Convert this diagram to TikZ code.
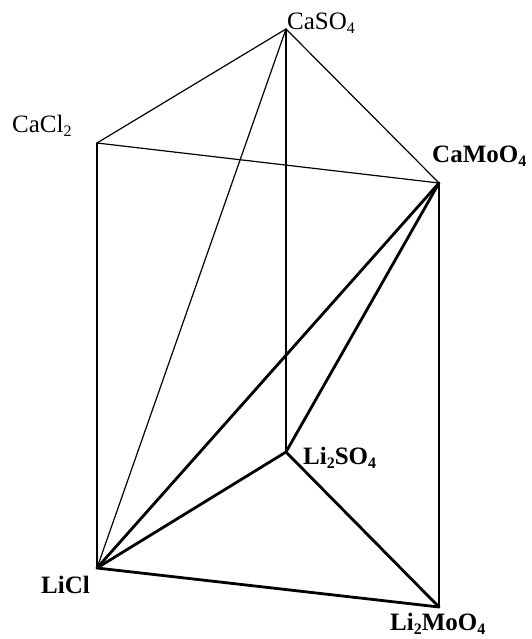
\documentclass[tikz,border=0pt]{standalone}
\usepackage{fontspec}
\setmainfont{Liberation Serif}
\newcommand{\sbs}[1]{\raisebox{-0.16em}{\fontsize{16}{16}\selectfont #1}}
\begin{document}
\begin{tikzpicture}[x=1pt,y=-1pt,
  thin edge/.style={line width=1.2pt,line cap=round,line join=round},
  thick edge/.style={line width=2.8pt,line cap=round,line join=round},
  lbl/.style={inner sep=0pt,font=\fontsize{25}{25}\selectfont},
  blbl/.style={inner sep=0pt,font=\fontsize{25}{25}\selectfont\bfseries}]
\useasboundingbox (0,0) rectangle (531,639);
\coordinate (caso) at (286,29);
\coordinate (cacl) at (97,143);
\coordinate (camo) at (439,183);
\coordinate (liso) at (286,452);
\coordinate (licl) at (97,568);
\coordinate (limo) at (439,607);
% thin edges
\draw[thin edge] (cacl) -- (caso) -- (camo);
\draw[thin edge] (cacl) -- (camo);
\draw[thin edge] (cacl) -- (licl);
\draw[thin edge] (caso) -- (liso);
\draw[thin edge] (caso) -- (licl);
% thick edges
\draw[thick edge] (licl) -- (camo);
\draw[thick edge] (liso) -- (camo);
\draw[thick edge] (camo) -- (limo);
\draw[thick edge] (licl) -- (liso) -- (limo);
\draw[thick edge] (licl) -- (limo);
% labels
\node[lbl,anchor=base west] (tcaso) at (287,30) {CaSO\sbs{4}};
\node[lbl,anchor=base west] (tcacl) at (12,133) {CaCl\sbs{2}};
\node[blbl,anchor=base west] (tcamo) at (432,163) {CaMoO\sbs{4}};
\node[blbl,anchor=base west] (tliso) at (303,464) {Li\sbs{2}SO\sbs{4}};
\node[blbl,anchor=base east] (tlicl) at (90,593) {LiCl};
\node[blbl,anchor=base west] (tlimo) at (390,630) {Li\sbs{2}MoO\sbs{4}};
\end{tikzpicture}
\end{document}
